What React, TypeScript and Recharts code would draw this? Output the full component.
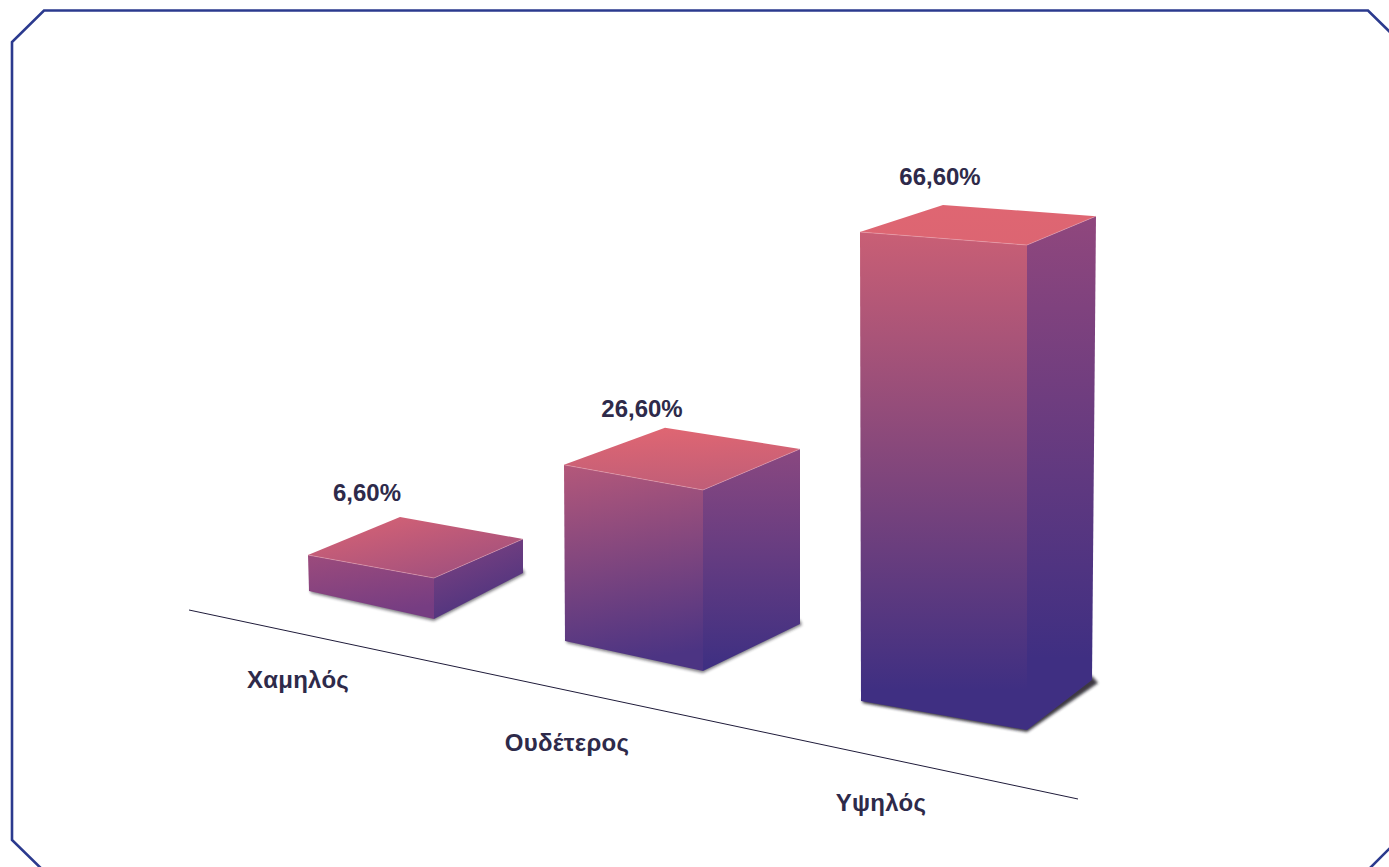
import React from 'react';
import { BarChart, Bar, XAxis, YAxis, LabelList } from 'recharts';

const categories = ['Χαμηλός', 'Ουδέτερος', 'Υψηλός'];
const values = [6.6, 26.6, 66.6];

const chartData = categories.map((name, i) => ({ name, value: values[i] }));

const FONT = '"Liberation Sans", Arial, sans-serif';
const TEXT_COLOR = '#2e2a4a';

// how each flat bar rect from recharts gets turned into a box in perspective
const boxes = [
  {
    shiftX: 44, shiftY: -110, frontW: 125, frontDrop: 28, depthX: 89, depthY: -46,
    left: 0.98, right: 1.117, back: 0.926, leanLeft: -1, leanBack: 0, topDx: 92, topDy: -38,
    labelDx: 27, labelDy: -163, tickDx: -42, tickDy: -13,
    shadowX: 2, shadowY: 1, shadowOpacity: 0.55,
    topFace: ['#d86374', '#9b4e7f'], topDir: [0.1, 0, 0.9, 1],
    frontFace: ['#9c4b7c', '#763d82'], frontDir: [0, 0, 0.3, 1],
    sideFace: ['#7f4280', '#47327f'], sideDir: [0.2, 0, 0.65, 1],
  },
  {
    shiftX: 0, shiftY: -60, frontW: 138, frontDrop: 30, depthX: 97, depthY: -47,
    left: 0.975, right: 1.002, back: 0.969, leanLeft: -1, leanBack: 0, topDx: 101, topDy: -37,
    labelDx: 2, labelDy: -103, tickDx: -73, tickDy: 50,
    shadowX: 2, shadowY: 1, shadowOpacity: 0.55,
    topFace: ['#e06672', '#c05e78'], topDir: [0.2, 0, 0.3, 1],
    frontFace: ['#b4587a', '#4c3483'], frontDir: [0, 0, 0.12, 1],
    sideFace: ['#8a4880', '#3d2f82'], sideDir: [0, 0, 0, 1],
  },
  {
    shiftX: -4, shiftY: 0, frontW: 166, frontDrop: 29, depthX: 65, depthY: -50,
    left: 1.001, right: 1.035, back: 0.99, leanLeft: -1, leanBack: 4, topDx: 83, topDy: -27,
    labelDx: 0, labelDy: -47, tickDx: -59, tickDy: 110,
    shadowX: 6, shadowY: 3, shadowOpacity: 0.85,
    topFace: ['#df6672', '#dc6572'], topDir: [0, 0, 0, 1],
    frontFace: ['#c95f75', '#3f2f82'], frontDir: [0, 0, 0, 0.92],
    sideFace: ['#90477d', '#3f2f82'], sideDir: [0, 0, 0, 0.86],
  },
];

const pts = (list: number[][]) => list.map((p) => p.join(',')).join(' ');

const Gradient = ({ id, colors, dir }: { id: string; colors: string[]; dir: number[] }) => (
  <linearGradient id={id} x1={dir[0]} y1={dir[1]} x2={dir[2]} y2={dir[3]}>
    <stop offset="0%" stopColor={colors[0]} />
    <stop offset="100%" stopColor={colors[1]} />
  </linearGradient>
);

const Box3D = (props: any) => {
  const { x, y, height, index } = props;
  const b = boxes[index];
  const baseY = y + height;

  const flb = [x + b.shiftX, baseY + b.shiftY];
  const frb = [flb[0] + b.frontW, flb[1] + b.frontDrop];
  const brb = [frb[0] + b.depthX, frb[1] + b.depthY];
  const flt = [flb[0] + b.leanLeft, flb[1] - height * b.left];
  const frt = [frb[0], frb[1] - height * b.right];
  const brt = [brb[0] + b.leanBack, brb[1] - height * b.back];
  const blt = [flt[0] + b.topDx, flt[1] + b.topDy];

  const shadow = [
    [flb[0] + 1, flb[1] - 2],
    [flb[0] + 2, flb[1] + 2],
    [frb[0], frb[1] + 2],
    [brb[0] + b.shadowX, brb[1] + b.shadowY],
    [brb[0], brb[1] - 4],
  ];

  return (
    <g>
      <defs>
        <Gradient id={`top-${index}`} colors={b.topFace} dir={b.topDir} />
        <Gradient id={`front-${index}`} colors={b.frontFace} dir={b.frontDir} />
        <Gradient id={`side-${index}`} colors={b.sideFace} dir={b.sideDir} />
        <filter id={`blur-${index}`} x="-10%" y="-10%" width="120%" height="130%">
          <feGaussianBlur stdDeviation="1.8" />
        </filter>
      </defs>
      <polygon points={pts(shadow)} fill="#1a1420" opacity={b.shadowOpacity} filter={`url(#blur-${index})`} />
      <polygon points={pts([flt, frt, brt, blt])} fill={`url(#top-${index})`} />
      <polygon points={pts([flt, frt, frb, flb])} fill={`url(#front-${index})`} />
      <polygon points={pts([frt, brt, brb, frb])} fill={`url(#side-${index})`} />
      <polyline
        points={pts([flt, frt, brt])}
        fill="none"
        stroke="#f2a9b4"
        strokeWidth={0.8}
        strokeOpacity={0.6}
      />
    </g>
  );
};

const ValueLabel = (props: any) => {
  const { x, y, width, value, index } = props;
  const b = boxes[index];
  return (
    <text
      x={x + width / 2 + b.labelDx}
      y={y + b.labelDy}
      textAnchor="middle"
      fontFamily={FONT}
      fontWeight="bold"
      fontSize={24}
      fill={TEXT_COLOR}
    >
      {`${Number(value).toFixed(2).replace('.', ',')}%`}
    </text>
  );
};

const CategoryTick = (props: any) => {
  const { x, y, payload, index } = props;
  const b = boxes[index];
  return (
    <text
      x={x + b.tickDx}
      y={y + b.tickDy}
      textAnchor="middle"
      fontFamily={FONT}
      fontWeight="bold"
      fontSize={24}
      letterSpacing={0.25}
      fill={TEXT_COLOR}
    >
      {payload.value}
    </text>
  );
};

export default function App() {
  return (
    <div style={{ position: 'absolute', left: 0, top: 0, width: 1389, height: 867, background: '#fff' }}>
      <BarChart
        width={1389}
        height={867}
        data={chartData}
        barSize={150}
        margin={{ top: 136, right: 299, bottom: 136, left: 190 }}
      >
        {/* frame with cut corners, runs off the page on the right and bottom */}
        <polygon
          points="44,10.5 1368,10.5 1400,42 1400,838 1360,878 51,878 12,840 12,42"
          fill="none"
          stroke="#2b3a8e"
          strokeWidth={2.6}
        />
        {/* slanted floor line */}
        <line x1={189} y1={610} x2={1078} y2={799} stroke="#1f1b3a" strokeWidth={1} />
        <XAxis
          dataKey="name"
          height={30}
          axisLine={false}
          tickLine={false}
          tickSize={0}
          tickMargin={0}
          interval={0}
          tick={CategoryTick}
        />
        <YAxis hide domain={[1.5, 80]} />
        <Bar dataKey="value" shape={Box3D} isAnimationActive={false}>
          <LabelList dataKey="value" content={ValueLabel} />
        </Bar>
      </BarChart>
    </div>
  );
}
